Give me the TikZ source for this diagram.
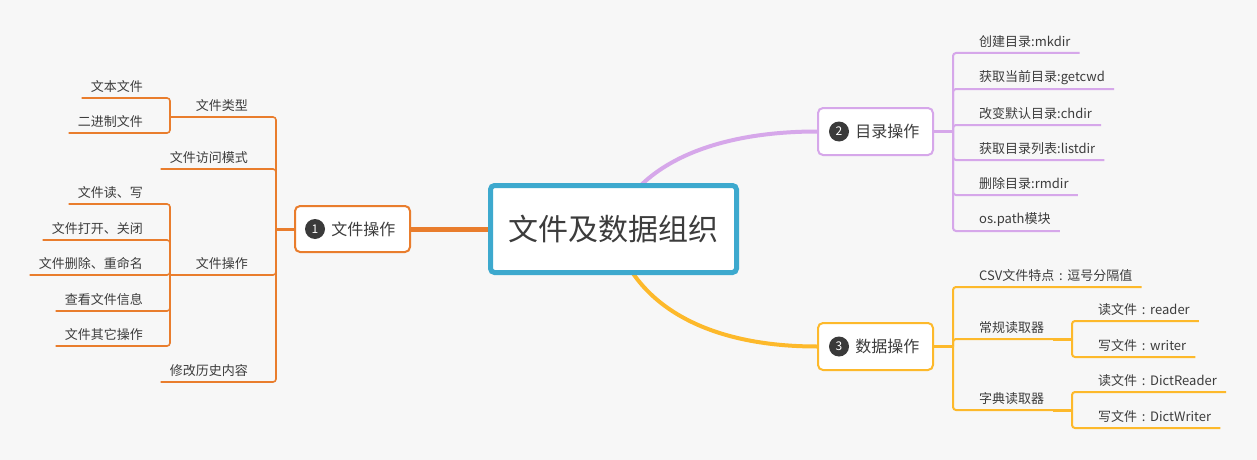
\documentclass[tikz,border=0pt]{standalone}
\usepackage{fontspec}
\setmainfont{Noto Sans CJK SC}
\usetikzlibrary{backgrounds}
\definecolor{bgc}{HTML}{F7F7F7}
\definecolor{org}{HTML}{E97D2D}
\definecolor{blu}{HTML}{3DA9CE}
\definecolor{pur}{HTML}{D6A7EA}
\definecolor{yel}{HTML}{FDB92B}
\definecolor{txt}{HTML}{3C3C3C}
\definecolor{numc}{HTML}{3A3A3A}
\newcommand\fwcolon{\makebox[13pt][c]{:}}
\tikzset{
  leafR/.style={anchor=south west, inner xsep=9pt, inner ysep=0pt, minimum height=22pt, text=txt, font=\fontsize{13}{15}\selectfont},
  leafL/.style={anchor=south east, inner xsep=9pt, inner ysep=0pt, minimum height=22pt, text=txt, font=\fontsize{13}{15}\selectfont},
  topicbox/.style={draw=#1, line width=2pt, fill=white, rounded corners=5pt, minimum width=115pt, minimum height=46pt, inner sep=0pt},
  numcirc/.style={circle, fill=numc, text=white, minimum size=20pt, inner sep=0pt, font=\fontsize{12}{12}\selectfont},
  topictext/.style={anchor=west, inner sep=0pt, text=txt, font=\fontsize{16}{18}\selectfont},
  olink/.style={draw=org, line width=1.6pt, rounded corners=3pt},
  plink/.style={draw=pur, line width=2pt, rounded corners=3pt},
  ylink/.style={draw=yel, line width=2pt, rounded corners=3pt},
}
\begin{document}
\begin{tikzpicture}[x=1pt,y=-1pt]
\useasboundingbox (0,0) rectangle (1257,460);
% root
\node[draw=blu, line width=5pt, fill=white, rounded corners=4pt, minimum width=246pt, minimum height=87pt, text=txt, font=\fontsize{30}{36}\selectfont] (root) at (613.5,229) {文件及数据组织};
% topics
\node[topicbox=org] (n1) at (352.5,229) {};
\node[numcirc] (n1c) at (315,229) {1};
\node[topictext] (n1t) at ([xshift=6pt]n1c.east) {文件操作};
\node[topicbox=pur, minimum height=47pt] (n2) at (875.5,131.5) {};
\node[numcirc] (n2c) at (839,131.5) {2};
\node[topictext] (n2t) at ([xshift=6pt]n2c.east) {目录操作};
\node[topicbox=yel, minimum height=47pt] (n3) at (875.5,346.5) {};
\node[numcirc] (n3c) at (839,346.5) {3};
\node[topictext] (n3t) at ([xshift=6pt]n3c.east) {数据操作};

\begin{scope}[on background layer]
\fill[bgc] (0,0) rectangle (1257,460);
\draw[pur, line width=4pt] (root.center) .. controls (632,170) and (705,131.5) .. (n2.west);
\draw[yel, line width=4pt] (root.center) .. controls (630,300) and (700,346.5) .. (n3.west);
\end{scope}
\draw[org, line width=5pt] (root.west) -- (n1.east);

% ---------- left branch ----------
\coordinate (j1) at (276,229);
\coordinate (jA) at (170,117);
\coordinate (jB) at (170,275);
\draw[org, line width=3pt] (n1.west) -- (j1);
\node[leafL] (ft) at (257,117) {文件类型};
\node[leafL] (fm) at (257,169) {文件访问模式};
\node[leafL] (fo) at (257,275) {文件操作};
\node[leafL] (fh) at (257,382) {修改历史内容};
\foreach \n in {ft,fm,fo,fh} \draw[olink] (j1) |- (\n.south west);
\draw[org, line width=2.6pt] (ft.south west) -- (jA);
\draw[org, line width=2.6pt] (fo.south west) -- (jB);
\node[leafL] (a1) at (152,98) {文本文件};
\node[leafL] (a2) at (152,133) {二进制文件};
\foreach \n in {a1,a2} \draw[olink] (jA) |- (\n.south west);
\node[leafL] (b1) at (152,204) {文件读、写};
\node[leafL] (b2) at (152,240) {文件打开、关闭};
\node[leafL] (b3) at (152,275) {文件删除、重命名};
\node[leafL] (b4) at (152,311) {查看文件信息};
\node[leafL] (b5) at (152,346) {文件其它操作};
\foreach \n in {b1,b2,b3,b4,b5} \draw[olink] (jB) |- (\n.south west);

% ---------- right top ----------
\coordinate (j2) at (953,131.5);
\draw[pur, line width=3pt] (n2.east) -- (j2);
\node[leafR] (c1) at (970,53) {创建目录:mkdir};
\node[leafR] (c2) at (970,89) {获取当前目录:getcwd};
\node[leafR] (c3) at (970,125) {改变默认目录:chdir};
\node[leafR] (c4) at (970,160) {获取目录列表:listdir};
\node[leafR] (c5) at (970,195) {删除目录:rmdir};
\node[leafR] (c6) at (970,231) {os.path模块};
\foreach \n in {c1,c2,c3,c4,c5,c6} \draw[plink] (j2) |- (\n.south east);

% ---------- right bottom ----------
\coordinate (j3) at (953,346.5);
\coordinate (jC) at (1072,339);
\coordinate (jD) at (1072,410);
\draw[yel, line width=3pt] (n3.east) -- (j3);
\node[leafR] (d1) at (970,287) {CSV文件特点\fwcolon 逗号分隔值};
\node[leafR] (d2) at (970,339) {常规读取器};
\node[leafR] (d3) at (970,410) {字典读取器};
\foreach \n in {d1,d2,d3} \draw[ylink] (j3) |- (\n.south east);
\draw[yel, line width=3pt] (d2.south east) -- (jC);
\draw[yel, line width=3pt] (d3.south east) -- (jD);
\node[leafR] (e1) at (1089,321) {读文件\fwcolon reader};
\node[leafR] (e2) at (1089,357) {写文件\fwcolon writer};
\foreach \n in {e1,e2} \draw[ylink] (jC) |- (\n.south east);
\node[leafR] (e3) at (1089,392) {读文件\fwcolon DictReader};
\node[leafR] (e4) at (1089,428) {写文件\fwcolon DictWriter};
\foreach \n in {e3,e4} \draw[ylink] (jD) |- (\n.south east);
\end{tikzpicture}
\end{document}
